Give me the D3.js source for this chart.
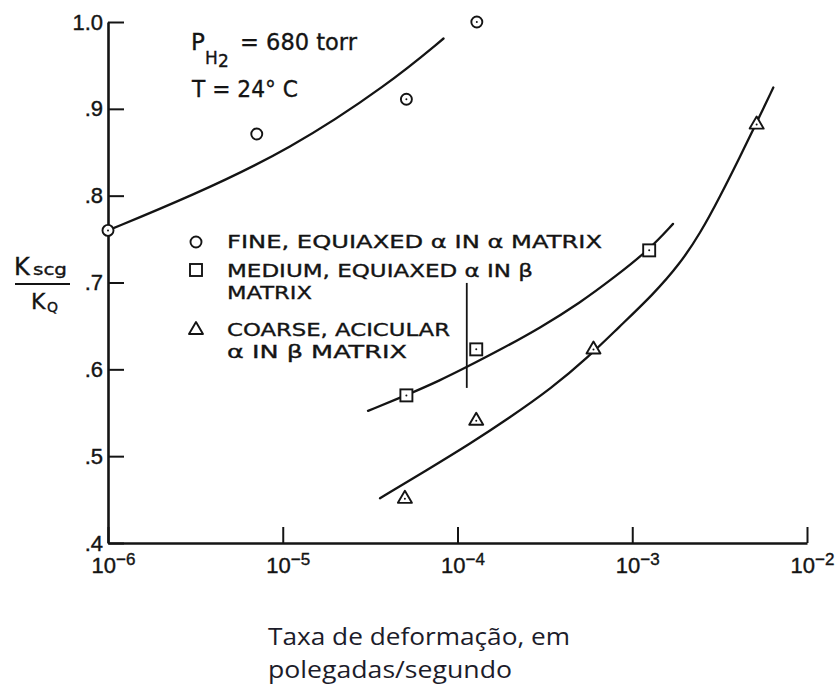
<!DOCTYPE html>
<html>
<head>
<meta charset="utf-8">
<script src="https://cdn.jsdelivr.net/npm/d3@7"></script>
<style>
  html, body { margin: 0; padding: 0; background: #fff; }
  svg { display: block; }
</style>
</head>
<body>
<svg id="chart" width="840" height="686"></svg>
<script>
// Strain rate (in/s) vs. K_scc / K_Q for three Ti microstructures
const fineRate    = [1e-6, 7.1e-6, 5.1e-5, 1.29e-4];
const fineRatio   = [0.76, 0.871, 0.911, 1.0];
const mediumRate  = [5.1e-5, 1.28e-4, 1.25e-3];
const mediumRatio = [0.570, 0.623, 0.737];
const coarseRate  = [5.0e-5, 1.28e-4, 6.0e-4, 5.15e-3];
const coarseRatio = [0.452, 0.542, 0.624, 0.883];

// Hand-faired trend curves
const fineCurveRate    = [1e-6, 2.95e-6, 1.10e-5, 4.07e-5, 8.32e-5];
const fineCurveRatio   = [0.760, 0.799, 0.853, 0.929, 0.981];
const mediumCurveRate  = [3.075e-5, 5.14e-5, 7.94e-5, 1.133e-4, 1.75e-4, 2.966e-4, 5.02e-4, 7.96e-4, 1.247e-3, 1.711e-3];
const mediumCurveRatio = [0.5521, 0.5705, 0.5872, 0.6028, 0.6224, 0.6477, 0.6765, 0.7065, 0.7376, 0.7675];
const coarseCurveRate  = [3.601e-5, 6.664e-5, 1.179e-4, 1.952e-4, 3.452e-4, 5.60e-4, 8.318e-4, 1.319e-3, 1.876e-3, 2.442e-3, 3.177e-3, 4.135e-3, 5.156e-3, 6.416e-3];
const coarseCurveRatio = [0.4515, 0.4838, 0.5142, 0.5432, 0.5781, 0.6141, 0.6479, 0.6863, 0.7217, 0.7562, 0.7988, 0.8449, 0.8843, 0.9245];

// Scatter band on the medium series
const bandRate  = [1.13e-4, 1.13e-4];
const bandRatio = [0.5786, 0.6995];

// Axis ticks
const xTickValues    = [1e-6, 1e-5, 1e-4, 1e-3, 1e-2];
const xTickExponents = ["\u22126", "\u22125", "\u22124", "\u22123", "\u22122"];
const yTickValues    = [0.4, 0.5, 0.6, 0.7, 0.8, 0.9, 1.0];
const yTickLabels    = [".4", ".5", ".6", ".7", ".8", ".9", "1.0"];

const legendLabels = [
  ["FINE, EQUIAXED \u03b1  IN  \u03b1 MATRIX"],
  ["MEDIUM, EQUIAXED \u03b1  IN  \u03b2", "MATRIX"],
  ["COARSE, ACICULAR", "\u03b1  IN  \u03b2  MATRIX"]
];

const ink = "#141414";
const svg = d3.select("#chart");
svg.append("rect").attr("width", 840).attr("height", 686).attr("fill", "#fff");

const x = d3.scaleLog().domain([1e-6, 1e-2]).range([108, 807]);
const y = d3.scaleLinear().domain([0.4, 1.0]).range([543, 22]);

const labelFont = "'Liberation Sans', Arial, sans-serif";
const letterFont = "'DejaVu Sans', 'Liberation Sans', sans-serif";

// Y axis, ticks pointing inward
const yAxis = svg.append("g")
  .attr("transform", `translate(${x(1e-6)},0)`)
  .call(d3.axisLeft(y).tickValues(yTickValues)
    .tickFormat((d, i) => yTickLabels[i])
    .tickSizeInner(-16).tickSizeOuter(0).tickPadding(5));
yAxis.select(".domain").attr("stroke", ink).attr("stroke-width", 2.6);
yAxis.selectAll(".tick line").attr("stroke", ink).attr("stroke-width", 2);
yAxis.selectAll(".tick text")
  .attr("fill", ink).attr("stroke", ink).attr("stroke-width", 0.4)
  .attr("font-family", labelFont).attr("font-size", 22);

// X axis, ticks pointing inward
const xAxis = svg.append("g")
  .attr("transform", `translate(0,${y(0.4)})`)
  .call(d3.axisBottom(x).tickValues(xTickValues)
    .tickFormat(() => "")
    .tickSizeInner(-16).tickSizeOuter(0).tickPadding(8));
xAxis.select(".domain").attr("stroke", ink).attr("stroke-width", 2.6);
xAxis.selectAll(".tick line").attr("stroke", ink).attr("stroke-width", 2);
xAxis.selectAll(".tick").each(function (d, i) {
  const t = d3.select(this).select("text")
    .attr("text-anchor", "start").attr("x", -17).attr("y", 30).attr("dy", null)
    .attr("fill", ink).attr("stroke", ink).attr("stroke-width", 0.4)
    .attr("font-family", labelFont).attr("font-size", 22);
  t.text(null);
  t.append("tspan").text("10");
  t.append("tspan").attr("dy", -8).attr("font-size", 17).text(xTickExponents[i]);
});

// Trend curves, smoothed through the faired points
const line = d3.line().x(d => x(d[0])).y(d => y(d[1])).curve(d3.curveBasis);
const curves = [
  [fineCurveRate, fineCurveRatio],
  [mediumCurveRate, mediumCurveRatio],
  [coarseCurveRate, coarseCurveRatio]
];
curves.forEach(([r, k]) => {
  svg.append("path")
    .datum(r.map((v, i) => [v, k[i]]))
    .attr("d", line)
    .attr("fill", "none").attr("stroke", ink).attr("stroke-width", 2.3)
    .attr("stroke-linecap", "round");
});

// Scatter band
svg.append("line")
  .attr("x1", x(bandRate[0])).attr("x2", x(bandRate[1]))
  .attr("y1", y(bandRatio[0])).attr("y2", y(bandRatio[1]))
  .attr("stroke", ink).attr("stroke-width", 1.8);

// Marker symbols
function circleMark(g, cx, cy, dot) {
  g.append("circle").attr("cx", cx).attr("cy", cy).attr("r", 5.5)
    .attr("fill", "#fff").attr("stroke", ink).attr("stroke-width", 1.9);
  if (dot) g.append("circle").attr("cx", cx).attr("cy", cy).attr("r", 1).attr("fill", ink);
}
function squareMark(g, cx, cy, dot) {
  g.append("rect").attr("x", cx - 6).attr("y", cy - 6).attr("width", 12).attr("height", 12)
    .attr("fill", "#fff").attr("stroke", ink).attr("stroke-width", 1.9);
  if (dot) g.append("circle").attr("cx", cx).attr("cy", cy).attr("r", 1).attr("fill", ink);
}
function triangleMark(g, cx, cy, dot) {
  g.append("path")
    .attr("d", `M${cx},${cy - 7}L${cx + 7},${cy + 5}L${cx - 7},${cy + 5}Z`)
    .attr("fill", "#fff").attr("stroke", ink).attr("stroke-width", 1.9).attr("stroke-linejoin", "round");
  if (dot) g.append("circle").attr("cx", cx).attr("cy", cy + 1).attr("r", 1).attr("fill", ink);
}

const marks = svg.append("g");
fineRate.forEach((r, i) => circleMark(marks, x(r), y(fineRatio[i]), i !== 1));
mediumRate.forEach((r, i) => squareMark(marks, x(r), y(mediumRatio[i]), true));
coarseRate.forEach((r, i) => triangleMark(marks, x(r), y(coarseRatio[i]), true));

// Legend
const legend = svg.append("g").attr("fill", ink).attr("stroke", ink).attr("stroke-width", 0.35)
  .attr("font-family", letterFont).attr("font-size", 18);
const legendRows = [
  { sym: circleMark,   sy: 242, lines: [[248, 375]] },
  { sym: squareMark,   sy: 270, lines: [[277, 306], [299, 85]] },
  { sym: triangleMark, sy: 329, lines: [[336, 223], [358, 180]] }
];
legendRows.forEach((row, i) => {
  row.sym(legend, 196, row.sy, false);
  row.lines.forEach(([base, len], j) => {
    legend.append("text").attr("x", 227).attr("y", base)
      .attr("textLength", len).attr("lengthAdjust", "spacingAndGlyphs")
      .text(legendLabels[i][j]);
  });
});

// Test conditions
const cond = svg.append("g").attr("fill", ink).attr("stroke", ink).attr("stroke-width", 0.35)
  .attr("font-family", letterFont);
cond.append("text").attr("x", 191).attr("y", 50).attr("font-size", 23).text("P");
cond.append("text").attr("x", 205).attr("y", 64).attr("font-size", 17).text("H");
cond.append("text").attr("x", 218).attr("y", 67).attr("font-size", 17).text("2");
cond.append("text").attr("x", 240).attr("y", 50).attr("font-size", 23)
  .attr("textLength", 117).attr("lengthAdjust", "spacingAndGlyphs").text("= 680  torr");
cond.append("text").attr("x", 192).attr("y", 97).attr("font-size", 23)
  .attr("textLength", 106).attr("lengthAdjust", "spacingAndGlyphs").text("T = 24\u00b0 C");

// Y axis title: K_scg / K_Q
const yt = svg.append("g").attr("fill", ink).attr("font-family", letterFont);
yt.append("text").attr("x", 14).attr("y", 275).attr("font-size", 24)
  .attr("stroke", ink).attr("stroke-width", 0.35).text("K");
yt.append("text").attr("x", 33).attr("y", 275).attr("font-size", 16)
  .attr("stroke", ink).attr("stroke-width", 0.35)
  .attr("textLength", 34).attr("lengthAdjust", "spacingAndGlyphs").text("scg");
yt.append("line").attr("x1", 15).attr("x2", 70).attr("y1", 284).attr("y2", 284)
  .attr("stroke", ink).attr("stroke-width", 2.2);
yt.append("text").attr("x", 31).attr("y", 309).attr("font-size", 22)
  .attr("stroke", ink).attr("stroke-width", 0.35).text("K");
yt.append("text").attr("x", 47).attr("y", 312).attr("font-size", 14)
  .attr("stroke", ink).attr("stroke-width", 0.35).text("Q");

// X axis title
const xt = svg.append("g").attr("fill", "#1c1c2a").attr("font-family", "'Open Sans', sans-serif").attr("font-size", 24);
xt.append("text").attr("x", 268).attr("y", 645)
  .attr("textLength", 302).attr("lengthAdjust", "spacingAndGlyphs").text("Taxa de deformação, em");
xt.append("text").attr("x", 268).attr("y", 678)
  .attr("textLength", 244).attr("lengthAdjust", "spacingAndGlyphs").text("polegadas/segundo");
</script>
</body>
</html>
